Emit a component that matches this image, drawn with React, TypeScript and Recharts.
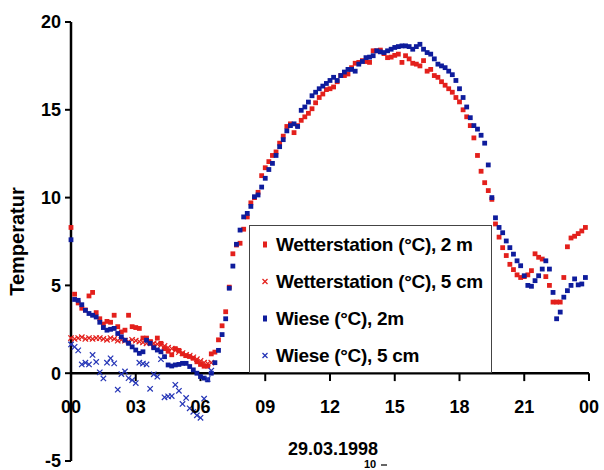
import React from 'react';
import { ScatterChart, Scatter, XAxis, YAxis, ReferenceLine, Legend } from 'recharts';

const FONT = '"Liberation Sans", Arial, Helvetica, sans-serif';

// measurement times (minutes after midnight, 10-minute interval)
const minutes = [
  0, 10, 20, 30, 40, 50, 60, 70, 80, 90, 100, 110, 120, 130, 140, 150, 160, 170, 180, 190,
  200, 210, 220, 230, 240, 250, 260, 270, 280, 290, 300, 310, 320, 330, 340, 350, 360, 370, 380, 390,
  400, 410, 420, 430, 440, 450, 460, 470, 480, 490, 500, 510, 520, 530, 540, 550, 560, 570, 580, 590,
  600, 610, 620, 630, 640, 650, 660, 670, 680, 690, 700, 710, 720, 730, 740, 750, 760, 770, 780, 790,
  800, 810, 820, 830, 840, 850, 860, 870, 880, 890, 900, 910, 920, 930, 940, 950, 960, 970, 980, 990,
  1000, 1010, 1020, 1030, 1040, 1050, 1060, 1070, 1080, 1090, 1100, 1110, 1120, 1130, 1140, 1150, 1160, 1170, 1180, 1190,
  1200, 1210, 1220, 1230, 1240, 1250, 1260, 1270, 1280, 1290, 1300, 1310, 1320, 1330, 1340, 1350, 1360, 1370, 1380, 1390,
  1400, 1410, 1420, 1430,
];

// Wetterstation (°C), 2 m
const wetter2m = [
  8.3, 4.5, 4.0, 3.7, 3.6, 4.4, 4.6, 3.45, 3.1, 2.8,
  2.95, 2.9, 3.3, 2.65, 2.35, 2.45, 3.3, 2.65, 2.6, 2.55,
  2.0, 2.0, 1.8, 1.5, 2.0, 1.7, 1.4, 1.25, 1.05, 1.4,
  1.3, 1.1, 1.0, 0.95, 0.85, 0.65, 0.5, 0.4, 0.4, 1.1,
  1.2, 1.9, 2.7, 3.5, 4.9, 6.8, 7.3, 7.4, 8.2, 8.9,
  9.7, 10.0, 10.3, 11.25, 11.7, 12.05, 12.4, 12.6, 13.1, 13.5,
  14.05, 14.2, 13.7, 14.1, 14.4, 14.6, 14.8, 15.06, 15.4, 15.7,
  15.9, 16.15, 16.2, 16.3, 16.6, 16.95, 16.95, 17.04, 17.4, 17.65,
  17.7, 17.8, 17.75, 17.7, 18.36, 18.36, 18.4, 18.2, 17.97, 18.0,
  18.1, 18.17, 17.7, 18.08, 17.9, 17.65, 17.6, 17.5, 17.8, 17.2,
  17.3, 16.95, 16.85, 16.6, 16.4, 16.2, 16.0, 15.7, 15.45, 15.0,
  14.6, 14.1, 13.4, 12.4, 11.5, 10.85, 10.4, 9.9, 8.5, 7.75,
  7.15, 6.7, 6.2, 5.9, 5.6, 5.45, 5.5, 5.6, 5.84, 6.8,
  6.6, 6.5, 5.5, 5.0, 4.05, 4.05, 4.05, 5.45, 7.2, 7.7,
  7.8, 7.95, 8.1, 8.3,
];

// Wetterstation (°C), 5 cm (night hours only)
const wetter5cm = [
  2.0, 1.95, 2.0, 2.05, 1.95, 2.0, 1.95, 2.0, 2.0, 1.95,
  1.9, 2.0, 1.95, 1.85, 1.9, 1.85, 1.8, 1.9, 1.85, 1.8,
  1.75, 1.7, 1.75, 1.7, 1.65, 1.6, 1.55, 1.45, 1.4, 1.3,
  1.2, 1.15, 1.05, 1.0, 0.9, 0.8, 0.7, 0.6, 0.55, 0.6,
];

// Wiese (°C), 2m
const wiese2m = [
  7.6, 4.2, 4.15, 3.9, 3.58, 3.4, 3.3, 3.2, 2.9, 2.6,
  2.45, 2.5, 2.55, 2.26, 2.07, 1.88, 1.7, 1.5, 1.32, 1.13,
  1.22, 1.88, 1.7, 1.45, 1.32, 1.22, 0.94, 0.47, 0.41, 0.47,
  0.5, 0.56, 0.56, 0.38, 0.19, 0.0, -0.19, -0.28, -0.38, 0.0,
  0.6, 1.3, 2.2, 3.1, 4.84, 6.1, 7.34, 8.15, 8.9, 9.1,
  9.5, 10.05, 10.15, 10.6, 11.1, 11.6, 11.95, 12.4, 12.9, 13.3,
  13.8, 14.1, 14.2, 14.05, 14.97, 15.16, 15.44, 15.8, 16.0, 16.2,
  16.35, 16.5, 16.67, 16.85, 16.67, 16.95, 17.15, 17.3, 17.3, 17.2,
  17.6, 17.75, 17.97, 18.0, 18.08, 18.36, 18.3, 18.26, 18.36, 18.45,
  18.55, 18.6, 18.64, 18.64, 18.6, 18.45, 18.6, 18.73, 18.45, 18.26,
  18.17, 17.9, 17.6, 17.5, 17.4, 17.2, 17.0, 16.67, 16.2, 15.7,
  15.16, 14.55, 14.1, 13.9, 13.55, 13.1, 11.86, 10.0, 8.85, 8.3,
  8.0, 7.53, 7.15, 6.78, 6.4, 6.12, 5.55, 5.0, 4.95, 5.27,
  5.55, 5.93, 6.4, 5.93, 4.6, 3.1, 3.48, 4.33, 4.7, 5.0,
  5.37, 5.03, 5.08, 5.45,
];

// Wiese (°C), 5 cm (night hours only)
const wiese5cm = [
  1.64, 1.5, 1.3, 0.5, 0.6, 0.5, 1.04, 0.64, 0.05, -0.3,
  0.6, 0.85, 0.56, -0.94, -0.05, 0.1, -0.28, -0.4, -0.56, 0.6,
  0.55, 0.5, -0.89, -0.06, -0.2, 0.8, -1.37, -1.32, -1.3, -0.66,
  -1.0, -1.75, -1.41, -2.0, -2.2, -2.4, -2.54, -1.45, -0.33, 0.15,
];

const seriesNames = [
  'Wetterstation (°C), 2 m',
  'Wetterstation (°C), 5 cm',
  'Wiese (°C), 2m',
  'Wiese (°C), 5 cm',
];

const xTickHours = [0, 3, 6, 9, 12, 15, 18, 21, 24];
const xTickLabels = ['00', '03', '06', '09', '12', '15', '18', '21', '00'];
const yTicks = [-5, 0, 5, 10, 15, 20];

const RED = '#e3201c';
const BLUE = '#0e1c9c';
const BLUE_X = '#2434b6';

const toPoints = (vals: number[]) => vals.map((v, i) => ({ x: minutes[i] / 60, y: v }));

const squareShape = (color: string) => (p: any) => (
  <rect x={p.cx - 2.4} y={p.cy - 2.4} width={4.8} height={4.8} fill={color} />
);
const crossShape = (color: string) => (p: any) => (
  <g stroke={color} strokeWidth={1.2}>
    <line x1={p.cx - 2.7} y1={p.cy - 2.7} x2={p.cx + 2.7} y2={p.cy + 2.7} />
    <line x1={p.cx - 2.7} y1={p.cy + 2.7} x2={p.cx + 2.7} y2={p.cy - 2.7} />
  </g>
);

const LegendBox = (props: any) => {
  const payload = props.payload || [];
  return (
    <div
      style={{
        width: 243,
        height: 148,
        boxSizing: 'border-box',
        border: '1.5px solid #444',
        background: '#fff',
        fontFamily: FONT,
        fontWeight: 700,
        fontSize: 19,
        letterSpacing: -0.3,
        color: '#000',
      }}
    >
      {payload.map((e: any, i: number) => (
        <div key={i} style={{ height: 37, display: 'flex', alignItems: 'center', whiteSpace: 'nowrap' }}>
          <svg width={26} height={37} style={{ flex: 'none' }}>
            {e.type === 'cross' ? (
              <g stroke={e.color} strokeWidth={1.2}>
                <line x1={12.5} y1={16} x2={17.5} y2={21} />
                <line x1={12.5} y1={21} x2={17.5} y2={16} />
              </g>
            ) : (
              <rect x={13} y={15.5} width={4} height={6} fill={e.color} />
            )}
          </svg>
          <span>{e.value}</span>
        </div>
      ))}
    </div>
  );
};

const renderYLabel = (p: any) => {
  const vb = p.viewBox;
  const cx = vb.x + 6;
  const cy = vb.y + vb.height / 2;
  return (
    <text
      x={cx}
      y={cy}
      transform={`rotate(-90, ${cx}, ${cy})`}
      textAnchor="middle"
      dominantBaseline="central"
      fontFamily={FONT}
      fontWeight={700}
      fontSize={20}
      fill="#000"
    >
      Temperatur
    </text>
  );
};

export default function App() {
  return (
    <div style={{ position: 'absolute', left: 0, top: 0, width: 604, height: 470, background: '#fff', overflow: 'hidden' }}>
      <ScatterChart width={604} height={470} margin={{ top: 22, right: 15, bottom: 9, left: 11 }}>
        <XAxis type="number" dataKey="x" domain={[0, 24]} hide />
        <YAxis
          type="number"
          dataKey="y"
          domain={[-5, 20]}
          ticks={yTicks}
          interval={0}
          width={60}
          axisLine={{ stroke: '#000', strokeWidth: 2.5 }}
          tickLine={{ stroke: '#000', strokeWidth: 2 }}
          tickSize={6}
          tickMargin={4}
          tick={{ fill: '#000', fontSize: 18, fontWeight: 700, fontFamily: FONT }}
          label={renderYLabel}
        />
        <ReferenceLine y={0} stroke="#000" strokeWidth={2.5} />
        {xTickHours.map((h, i) => (
          <ReferenceLine
            key={'t' + i}
            segment={[{ x: h, y: 0 }, { x: h, y: -0.45 }]}
            stroke="#000"
            strokeWidth={2}
            label={{
              value: xTickLabels[i],
              position: 'bottom',
              offset: 19,
              fill: '#000',
              fontSize: 18,
              fontWeight: 700,
              fontFamily: FONT,
            }}
          />
        ))}
        <Scatter name={seriesNames[0]} data={toPoints(wetter2m)} fill={RED} legendType="square" shape={squareShape(RED)} isAnimationActive={false} />
        <Scatter name={seriesNames[1]} data={toPoints(wetter5cm)} fill={RED} legendType="cross" shape={crossShape(RED)} isAnimationActive={false} />
        <Scatter name={seriesNames[2]} data={toPoints(wiese2m)} fill={BLUE} legendType="square" shape={squareShape(BLUE)} isAnimationActive={false} />
        <Scatter name={seriesNames[3]} data={toPoints(wiese5cm)} fill={BLUE_X} legendType="cross" shape={crossShape(BLUE_X)} isAnimationActive={false} />
        <Legend
          layout="horizontal"
          verticalAlign="middle"
          align="center"
          content={<LegendBox />}
          wrapperStyle={{ left: 249, top: 225, width: 243, height: 148 }}
        />
      </ScatterChart>
      <div
        style={{
          position: 'absolute',
          left: 233,
          top: 440,
          width: 200,
          textAlign: 'center',
          fontFamily: FONT,
          fontWeight: 700,
          fontSize: 18,
          lineHeight: '18px',
          color: '#000',
        }}
      >
        29.03.1998
      </div>
      <div
        style={{
          position: 'absolute',
          left: 364,
          top: 459,
          fontFamily: FONT,
          fontWeight: 700,
          fontSize: 11,
          lineHeight: '11px',
          color: '#000',
        }}
      >
        10
      </div>
      <div style={{ position: 'absolute', left: 381, top: 464, width: 6, height: 2, background: '#666' }} />
    </div>
  );
}
